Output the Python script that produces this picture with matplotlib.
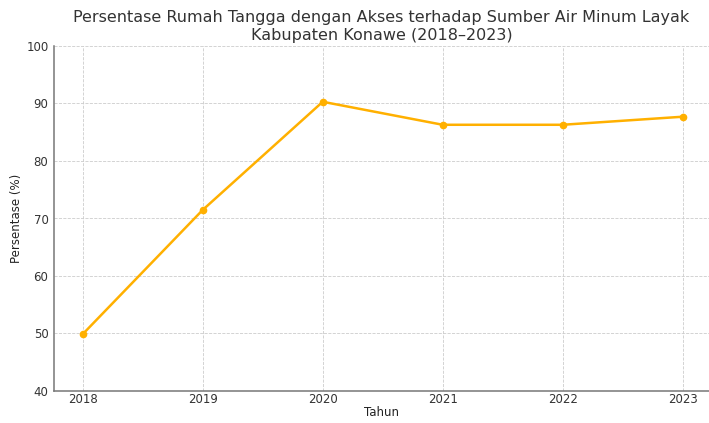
import matplotlib
matplotlib.use("Agg")
import matplotlib.pyplot as plt

tahun = [2018, 2019, 2020, 2021, 2022, 2023]
persentase = [49.9, 71.5, 90.3, 86.3, 86.3, 87.7]

fig, ax = plt.subplots(figsize=(7.09, 4.23), dpi=100)
ax.plot(tahun, persentase, marker="o", color="#FFB000", linewidth=1.8, markersize=4.5)

ax.set_title("Persentase Rumah Tangga dengan Akses terhadap Sumber Air Minum Layak\nKabupaten Konawe (2018\u20132023)",
             fontsize=11.5, color="#333333", linespacing=1.25, pad=4.5)
ax.set_xlabel("Tahun", fontsize=8.5, color="#222222", labelpad=0)
ax.set_ylabel("Persentase (%)", fontsize=8.5, color="#222222", labelpad=2)
ax.set_ylim(40, 100)
ax.set_xlim(2017.76, 2023.22)
ax.set_xticks(tahun)
ax.tick_params(labelsize=8.5, colors="#333333", length=0)
ax.tick_params(axis="x", pad=1.5)
ax.tick_params(axis="y", pad=4)
ax.grid(True, linestyle="--", linewidth=0.6, color="#cccccc")
ax.spines["top"].set_visible(False)
ax.spines["right"].set_visible(False)
for s in ("left", "bottom"):
    ax.spines[s].set_color("#777777")
    ax.spines[s].set_linewidth(1.1)

ax.set_position([54 / 709, 32 / 423, 655 / 709, 345 / 423])
fig.savefig("out.png")
